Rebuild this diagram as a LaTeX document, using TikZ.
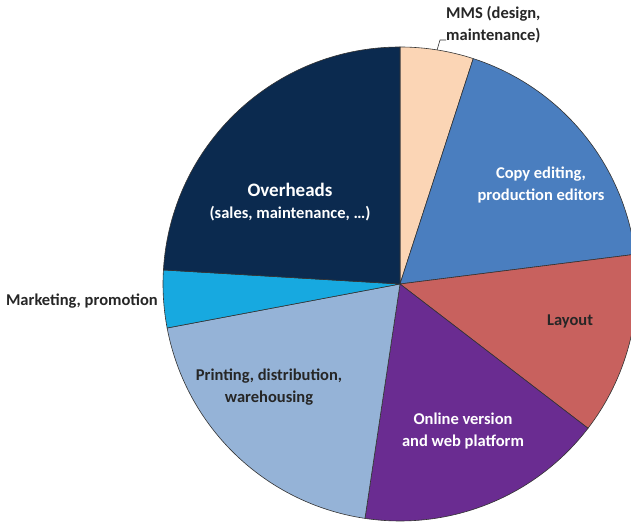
\documentclass[tikz,border=0pt]{standalone}
\usepackage{fontspec}
\setmainfont{Carlito}
\usetikzlibrary{calc}
\definecolor{overheadcol}{HTML}{0B2A4F}
\definecolor{mmscol}{HTML}{FBD5B5}
\definecolor{copycol}{HTML}{4A7EBF}
\definecolor{layoutcol}{HTML}{C8615E}
\definecolor{onlinecol}{HTML}{6A2C91}
\definecolor{printcol}{HTML}{95B3D7}
\definecolor{marketcol}{HTML}{17A9E0}
\tikzset{
    slice/.style={draw=black!80, line width=0.6pt, line join=round},
    lbl/.style={font=\bfseries\fontsize{16.5}{22}\selectfont, text=black!85, align=center, inner sep=0pt},
    lightlbl/.style={lbl, text=white},
    leader/.style={draw=black!80, line width=0.6pt},
}
\begin{document}
\begin{tikzpicture}[x=1pt, y=1pt]
    \useasboundingbox (0,0) rectangle (631,524);
    \clip (0,0) rectangle (631,524);
    \coordinate (c) at (400,240);
    \foreach \a/\b/\col in {72/90/mmscol, 7.2/72/copycol, -37.5/7.2/layoutcol,
        -98.5/-37.5/onlinecol, -169.3/-98.5/printcol, -183.4/-169.3/marketcol,
        -270/-183.4/overheadcol} {
        \draw[slice, fill=\col] (c) -- ++(\a:237) arc[start angle=\a, end angle=\b, radius=237] -- cycle;
    };
    \node[lightlbl] (overheads) at (290,322) {{\fontsize{19}{25}\selectfont Overheads}\\(sales, maintenance, \dots)};
    \node[lightlbl] (copy) at (541,339) {Copy editing,\\production editors};
    \node[lbl] (layout) at (570,203) {Layout};
    \node[lightlbl] (online) at (463,93) {Online version\\and web platform};
    \node[lbl] (printing) at (269,137) {Printing, distribution,\\warehousing};
    \node[lbl, anchor=east] (marketing) at (158,223) {Marketing, promotion};
    \node[lbl, align=left, anchor=west] (mms) at (446,499) {MMS (design,\\maintenance)};
    \coordinate (mmsrim) at ($(c)+(81:237)$);
    \coordinate (mmsknee) at (440,484);
    \draw[leader] (mmsrim) -- (mmsknee) -- (mmsknee -| mms.west);
\end{tikzpicture}
\end{document}
